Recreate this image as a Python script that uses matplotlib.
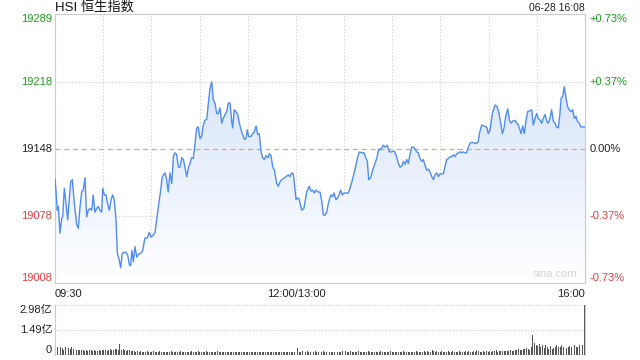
import numpy as np
import matplotlib.pyplot as plt
from matplotlib.colors import LinearSegmentedColormap

plt.rcParams['font.family'] = ['Liberation Sans', 'Noto Sans CJK SC']

# trading minutes since 09:30 (12:00 and 13:00 share minute 150)
minutes = [0, 0.6, 1.4, 2.1, 3.1, 4.2, 4.8, 5.8, 6.8, 7.9, 8.7, 9.8, 10.8, 12.0, 13.5, 14.5,
           15.6, 16.6, 17.6, 18.7, 19.7, 20.7, 21.8, 22.9, 23.8, 24.9, 26.0, 27.0, 28.0, 29.1,
           29.7, 30.7, 31.8, 32.6, 33.8, 34.9, 35.9, 36.9, 38.0, 38.8, 40.0, 40.9, 41.9, 43.0,
           44.2, 45.3, 46.3, 47.1, 47.9, 48.8, 49.8, 50.9, 51.9, 53.4, 54.6, 56.0, 57.5, 58.7,
           59.8, 61.2, 62.3, 63.3, 64.3, 65.4, 66.8, 68.5, 69.5, 70.5, 71.6, 72.7, 73.7, 74.7,
           75.8, 76.8, 77.8, 78.9, 79.9, 80.9, 82.0, 83.0, 84.1, 85.1, 86.1, 87.2, 88.2, 89.2,
           90.3, 91.3, 92.3, 93.4, 94.5, 95.5, 96.5, 97.6, 98.6, 99.6, 100.7, 101.7, 102.7,
           103.8, 104.8, 105.9, 106.9, 107.9, 109.0, 110.0, 110.6, 111.6, 112.7, 113.8, 114.8,
           115.8, 116.9, 117.9, 118.9, 119.7, 120.6, 121.9, 123.1, 124.1, 125.2, 126.2, 127.2,
           128.3, 129.3, 130.3, 131.4, 132.8, 133.4, 134.5, 135.6, 136.6, 138.0, 139.0, 140.5,
           142.2, 143.8, 145.3, 146.3, 147.4, 148.4, 150.1, 151.1, 152.1, 153.6, 155.0, 156.7,
           158.3, 159.4, 160.5, 161.5, 162.5, 163.9, 165.0, 166.1, 167.1, 168.1, 169.2, 170.2,
           171.7, 172.9, 173.7, 175.0, 176.4, 177.9, 178.9, 180.0, 181.2, 182.6, 183.7, 184.9,
           186.2, 187.4, 188.5, 189.5, 191.0, 192.4, 193.7, 194.5, 195.3, 196.6, 197.8, 199.3,
           200.3, 201.6, 202.4, 203.4, 204.4, 205.5, 206.9, 208.2, 209.7, 211.1, 212.3, 213.8,
           214.8, 215.9, 216.9, 217.9, 219.0, 220.0, 221.0, 222.1, 223.1, 224.2, 225.2, 226.2,
           227.3, 228.3, 229.3, 230.4, 231.4, 232.4, 233.5, 234.6, 235.6, 236.6, 237.7, 238.7,
           239.7, 241.8, 242.8, 243.9, 244.9, 246.0, 247.0, 248.0, 249.1, 250.1, 251.1, 252.2,
           253.2, 254.2, 255.3, 256.3, 257.4, 258.4, 259.5, 261.5, 262.6, 263.6, 264.2, 265.7,
           267.1, 268.8, 269.8, 270.9, 272.3, 274.0, 275.4, 276.5, 277.5, 278.5, 279.6, 280.6,
           281.9, 282.9, 283.9, 285.0, 286.4, 287.5, 288.5, 289.5, 290.2, 291.2, 292.2, 293.3,
           294.3, 295.8, 296.8, 297.8, 298.9, 299.9, 300.9, 302.0, 303.0, 304.0, 305.1, 306.2,
           307.2, 308.2, 309.2, 310.3, 311.3, 312.3, 313.4, 314.4, 315.1, 316.1, 317.1, 318.2,
           319.2, 320.2, 321.3, 322.3, 323.4, 324.4, 325.2, 326.5, 327.4, 329.0, 330.0]

prices = [19117, 19105, 19084, 19088, 19060, 19076, 19077, 19107, 19092, 19074, 19092, 19114,
          19116, 19092, 19069, 19065, 19088, 19103, 19105, 19118, 19077, 19084, 19086, 19084,
          19100, 19082, 19086, 19088, 19084, 19082, 19107, 19100, 19100, 19092, 19084, 19095,
          19100, 19095, 19074, 19039, 19032, 19024, 19039, 19040, 19040, 19037, 19027, 19026,
          19042, 19030, 19046, 19035, 19038, 19039, 19042, 19055, 19055, 19061, 19056, 19058,
          19061, 19074, 19087, 19100, 19119, 19123, 19116, 19103, 19123, 19112, 19140, 19144,
          19142, 19129, 19129, 19139, 19137, 19129, 19119, 19128, 19133, 19139, 19138, 19154,
          19170, 19171, 19159, 19161, 19173, 19178, 19179, 19196, 19211, 19218, 19199, 19196,
          19185, 19185, 19191, 19175, 19180, 19184, 19187, 19196, 19196, 19177, 19170, 19189,
          19187, 19184, 19175, 19168, 19163, 19158, 19159, 19168, 19161, 19161, 19164, 19166,
          19172, 19163, 19164, 19145, 19139, 19137, 19141, 19139, 19143, 19141, 19129, 19126,
          19112, 19109, 19115, 19117, 19119, 19121, 19119, 19123, 19122, 19095, 19097, 19095,
          19084, 19086, 19103, 19109, 19104, 19105, 19102, 19105, 19103, 19103, 19093, 19079,
          19079, 19082, 19091, 19100, 19098, 19102, 19095, 19098, 19105, 19100, 19102, 19102,
          19102, 19107, 19114, 19123, 19131, 19140, 19145, 19144, 19144, 19138, 19135, 19116,
          19118, 19126, 19133, 19138, 19148, 19147, 19149, 19152, 19150, 19152, 19145, 19145,
          19146, 19142, 19133, 19129, 19130, 19135, 19132, 19137, 19133, 19142, 19150, 19150,
          19148, 19145, 19144, 19138, 19135, 19137, 19131, 19126, 19127, 19124, 19119, 19116,
          19121, 19123, 19119, 19122, 19122, 19129, 19137, 19138, 19140, 19140, 19142, 19140,
          19143, 19144, 19145, 19144, 19145, 19144, 19144, 19150, 19154, 19155, 19154, 19154,
          19156, 19164, 19173, 19172, 19171, 19164, 19168, 19185, 19194, 19192, 19185, 19175,
          19164, 19170, 19182, 19190, 19178, 19175, 19177, 19178, 19175, 19173, 19168, 19164,
          19172, 19164, 19178, 19187, 19188, 19189, 19173, 19180, 19185, 19180, 19178, 19175,
          19180, 19184, 19177, 19175, 19180, 19189, 19177, 19175, 19171, 19170, 19185, 19201,
          19203, 19213, 19201, 19192, 19189, 19187, 19189, 19180, 19182, 19177, 19175, 19171,
          19171, 19171]

# volume per minute, in 亿
volume = [
    1.49, 0.45, 0.38, 0.50, 0.42, 0.30, 0.48, 0.52, 0.40, 0.35,
    0.45, 0.38, 0.33, 0.30, 0.28, 0.31, 0.27, 0.30, 0.26, 0.29,
    0.25, 0.28, 0.30, 0.24, 0.27, 0.26, 0.22, 0.28, 0.25, 0.30,
    0.27, 0.32, 0.26, 0.29, 0.35, 0.28, 0.31, 0.38, 0.33, 0.30,
    0.63, 0.30, 0.35, 0.28, 0.25, 0.30, 0.27, 0.22, 0.25, 0.24,
    0.20, 0.22, 0.18, 0.21, 0.19, 0.17, 0.20, 0.23, 0.18, 0.16,
    0.19, 0.21, 0.17, 0.20, 0.18, 0.24, 0.19, 0.16, 0.18, 0.20,
    0.17, 0.19, 0.22, 0.18, 0.16, 0.20, 0.18, 0.17, 0.21, 0.19,
    0.18, 0.16, 0.20, 0.17, 0.19, 0.22, 0.18, 0.16, 0.19, 0.21,
    0.18, 0.20, 0.17, 0.19, 0.23, 0.18, 0.16, 0.19, 0.17, 0.20,
    0.18, 0.21, 0.17, 0.19, 0.16, 0.18, 0.20, 0.17, 0.15, 0.19,
    0.17, 0.18, 0.16, 0.20, 0.18, 0.17, 0.19, 0.16, 0.18, 0.17,
    0.19, 0.16, 0.18, 0.20, 0.17, 0.15, 0.18, 0.16, 0.19, 0.17,
    0.16, 0.18, 0.17, 0.15, 0.19, 0.16, 0.18, 0.17, 0.15, 0.18,
    0.16, 0.17, 0.15, 0.18, 0.16, 0.17, 0.15, 0.16, 0.18, 0.17,
    0.20,
    0.40, 0.20, 0.18, 0.21, 0.17, 0.19, 0.22, 0.18, 0.20, 0.17,
    0.19, 0.21, 0.18, 0.16, 0.20, 0.18, 0.22, 0.19, 0.17, 0.33,
    0.20, 0.18, 0.17, 0.19, 0.21, 0.18, 0.16, 0.20, 0.22, 0.19,
    0.25, 0.20, 0.18, 0.21, 0.19, 0.17, 0.20, 0.18, 0.22, 0.19,
    0.18, 0.20, 0.17, 0.19, 0.21, 0.18, 0.16, 0.19, 0.20, 0.17,
    0.19, 0.18, 0.21, 0.17, 0.20, 0.18, 0.16, 0.19, 0.22, 0.18,
    0.17, 0.20, 0.18, 0.19, 0.16, 0.18, 0.21, 0.17, 0.19, 0.18,
    0.20, 0.17, 0.19, 0.18, 0.22, 0.19, 0.17, 0.20, 0.18, 0.21,
    0.19, 0.22, 0.20, 0.18, 0.30, 0.21, 0.19, 0.23, 0.20, 0.18,
    0.21, 0.19, 0.17, 0.20, 0.22, 0.18, 0.19, 0.21, 0.17, 0.20,
    0.18, 0.22, 0.19, 0.17, 0.20, 0.23, 0.19, 0.21, 0.18, 0.20,
    0.22, 0.19, 0.30, 0.21, 0.18, 0.20, 0.23, 0.19, 0.21, 0.20,
    0.22, 0.19, 0.21, 0.24, 0.32, 0.20, 0.22, 0.25, 0.21, 0.23,
    0.26, 0.22, 0.24, 0.28, 0.25, 0.23, 0.30, 0.27, 0.35, 0.30,
    0.28, 0.38, 0.33, 0.42, 0.36, 0.32, 0.45, 1.19, 0.70, 0.60,
    0.52, 0.65, 0.45, 0.60, 0.40, 0.62, 0.45, 0.38, 0.55, 0.35,
    0.42, 0.48, 0.58, 0.50, 0.47, 0.60, 0.48, 0.50, 0.40, 0.45,
    0.55, 0.50, 0.45, 0.58, 0.50, 0.48, 0.62, 0.55, 0.58, 2.98,
]

prev_close = 19148
price_ticks = [19289, 19218, 19148, 19078, 19008]
pct_labels = ['+0.73%', '+0.37%', '0.00%', '-0.37%', '-0.73%']
vol_ticks = [2.98, 1.49, 0]
vol_labels = ['2.98亿', '1.49亿', '0']
time_labels = ['09:30', '12:00/13:00', '16:00']
time_pos = [0, 150, 330]

GREEN = '#1a9f1a'
RED = '#f03c3c'
GRAY = '#cccccc'
LINE = '#4f8ef0'
DARK = '#222222'

fig = plt.figure(figsize=(6.4, 3.6), dpi=100)
ax = fig.add_axes([55 / 640, 1 - 283 / 360, 530 / 640, 269 / 360])
vax = fig.add_axes([55 / 640, 1 - 355 / 360, 530 / 640, 50 / 360])

ax.set_xlim(0, 330)
ax.set_ylim(price_ticks[-1], price_ticks[0])

# gradient fill under the line
fill = ax.fill_between(minutes, prices, price_ticks[-1], color='none')
cmap = LinearSegmentedColormap.from_list('g', ['#ffffff', '#d8e5f9'])
grad = np.linspace(0, 1, 256).reshape(-1, 1)
img = ax.imshow(grad, cmap=cmap, aspect='auto', origin='lower',
                extent=[0, 330, price_ticks[-1], max(prices)], zorder=1)
img.set_clip_path(fill.get_paths()[0], transform=ax.transData)
ax.plot(minutes, prices, color=LINE, lw=1.0, zorder=3)

for t in range(30, 330, 30):
    ax.axvline(t, color=GRAY, lw=0.8, ls=(0, (1, 2)), zorder=0)
for p in [19218, 19078]:
    ax.axhline(p, color=GRAY, lw=0.8, ls=(0, (1, 2)), zorder=0)
ax.axhline(prev_close, color='#f0a070', lw=0.9, ls=(0, (4, 3)), zorder=2)

ax.set_xticks([])
ax.set_yticks([])
for s in ax.spines.values():
    s.set_color(GRAY)
    s.set_linewidth(0.8)

ytr = ax.get_yaxis_transform()
for i, (p, lab) in enumerate(zip(price_ticks, pct_labels)):
    c = GREEN if p > prev_close else (RED if p < prev_close else DARK)
    va = 'top' if i == 0 else ('bottom' if i == len(price_ticks) - 1 else 'center')
    ax.annotate(str(p), (0, p), xycoords=ytr, xytext=(-2, 0), textcoords='offset points',
                ha='right', va=va, color=c, fontsize=8)
    ax.annotate(lab, (1, p), xycoords=ytr, xytext=(3.5, 0), textcoords='offset points',
                ha='left', va=va, color=c, fontsize=8)

xtr = ax.get_xaxis_transform()
for t, lab, ha in zip(time_pos, time_labels, ['left', 'center', 'right']):
    ax.annotate(lab, (t, 0), xycoords=xtr, xytext=(0, -4), textcoords='offset points',
                ha=ha, va='top', fontsize=8, color=DARK)

ax.annotate('HSI 恒生指数', (0, 1), xycoords='axes fraction', xytext=(0, 4.5),
            textcoords='offset points', ha='left', va='center', fontsize=9.5, color='#111111')
ax.annotate('06-28 16:08', (1, 1), xycoords='axes fraction', xytext=(0, 4.5),
            textcoords='offset points', ha='right', va='center', fontsize=7.5, color=DARK)
ax.text(0.985, 0.015, 'sina.com', ha='right', va='bottom', fontsize=8,
        color='#d4d4d4', transform=ax.transAxes)

# volume panel
vax.bar(range(len(volume)), volume, width=0.6, color='#555555', zorder=2)
vax.set_xlim(-0.5, 330.5)
vax.set_ylim(0, vol_ticks[0])
vax.axhline(vol_ticks[0], color=GRAY, lw=0.8, ls=(0, (1, 1.5)), zorder=0)
vax.axhline(vol_ticks[1], color=GRAY, lw=0.8, ls=(0, (1, 1.5)), zorder=0)
vax.set_xticks([])
vax.set_yticks([])
for k in ['top', 'bottom']:
    vax.spines[k].set_visible(False)
for k in ['left', 'right']:
    vax.spines[k].set_color(GRAY)
    vax.spines[k].set_linewidth(0.8)
vtr = vax.get_yaxis_transform()
for v, lab, va in zip(vol_ticks, vol_labels, ['top', 'center', 'bottom']):
    vax.annotate(lab, (0, v), xycoords=vtr, xytext=(-2, 0), textcoords='offset points',
                 ha='right', va=va, fontsize=8, color=DARK)

fig.savefig('out.png', dpi=100)
